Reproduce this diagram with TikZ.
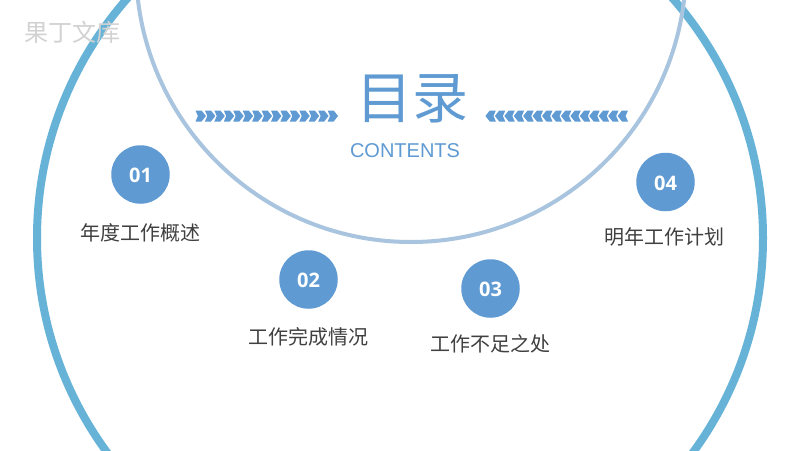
\documentclass[tikz,border=0pt]{standalone}
\usepackage{fontspec}
\setmainfont{Liberation Sans}
\newfontfamily\cjk{Noto Sans CJK SC}
\newfontfamily\numf{Open Sans}
\definecolor{bigring}{HTML}{66B3D7}
\definecolor{smallring}{HTML}{A9C4DE}
\definecolor{mainblue}{HTML}{5F9BD2}
\definecolor{labelgray}{HTML}{404040}
\definecolor{marklight}{HTML}{D2D2D2}
\tikzset{
  numdisc/.style={circle,fill=mainblue,minimum size=58.5pt,inner sep=0pt,text=white,text height=16.7pt,text depth=0pt,font=\numf\fontsize{20}{20}\selectfont\bfseries},
  itemlabel/.style={inner sep=0pt,text=labelgray,font=\cjk\fontsize{20}{20}\selectfont},
}
\newcommand{\chevR}[1]{\fill[mainblue] (#1,110.5) -- ++(6,0) -- ++(4.4,5.5) -- ++(-4.4,5.5) -- ++(-6,0) -- ++(2.4,-5.5) -- cycle;}
\newcommand{\chevL}[1]{\fill[mainblue] (#1,110.5) -- ++(-6,0) -- ++(-4.4,5.5) -- ++(4.4,5.5) -- ++(6,0) -- ++(-2.4,-5.5) -- cycle;}
\begin{document}
\begin{tikzpicture}[x=1pt,y=-1pt]
\useasboundingbox (0,0) rectangle (800,450);
\clip (0,0) rectangle (800,450);
\fill[white] (0,0) rectangle (800,450);
\draw[bigring,line width=8pt] (400,238) circle[radius=363];
\draw[smallring,line width=4pt] (411,-33) circle[radius=275];
\node[inner sep=0pt,text=marklight,font=\cjk\fontsize{24}{24}\selectfont] (mark) at (72,32) {果丁文库};
\node[inner sep=0pt,text=mainblue,font=\cjk\fontsize{56}{56}\selectfont] (title) at (412.5,99) {目录};
\node[inner sep=0pt,text=mainblue,font=\fontsize{20}{20}\selectfont] (sub) at (405,150.5) {CONTENTS};
\foreach \i in {0,...,14} {
  \pgfmathsetmacro{\xa}{195.5+9.44*\i}
  \chevR{\xa}
  \pgfmathsetmacro{\xb}{628-9.44*\i}
  \chevL{\xb}
}
\node[numdisc] (n1) at (140.5,174.5) {01};
\node[numdisc] (n2) at (308.5,279.5) {02};
\node[numdisc] (n3) at (490.5,288.5) {03};
\node[numdisc] (n4) at (665.5,182) {04};
\node[itemlabel] (l1) at (140.5,233) {年度工作概述};
\node[itemlabel] (l2) at (308,337) {工作完成情况};
\node[itemlabel] (l3) at (490,344) {工作不足之处};
\node[itemlabel] (l4) at (664.5,237) {明年工作计划};
\end{tikzpicture}
\end{document}
